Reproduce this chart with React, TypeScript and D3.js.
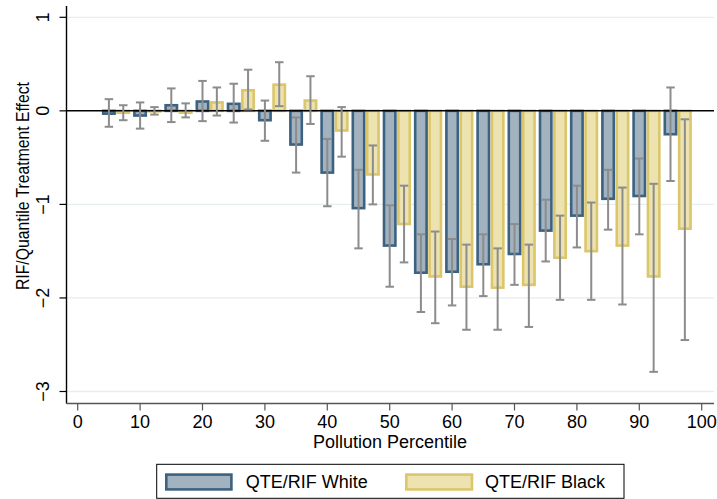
import React from "react";
import * as d3 from "d3";

const percentiles = [5, 10, 15, 20, 25, 30, 35, 40, 45, 50, 55, 60, 65, 70, 75, 80, 85, 90, 95];
const whiteEst = [-0.03, -0.05, 0.06, 0.1, 0.075, -0.1, -0.36, -0.66, -1.04, -1.44, -1.73, -1.72, -1.64, -1.53, -1.28, -1.12, -0.94, -0.91, -0.25];
const whiteHi = [0.125, 0.09, 0.24, 0.32, 0.29, 0.11, -0.07, -0.3, -0.63, -1.01, -1.32, -1.37, -1.32, -1.21, -0.95, -0.8, -0.63, -0.51, 0.25];
const whiteLo = [-0.17, -0.19, -0.12, -0.11, -0.125, -0.32, -0.66, -1.02, -1.47, -1.88, -2.15, -2.08, -1.98, -1.86, -1.61, -1.46, -1.27, -1.32, -0.75];
const blackEst = [-0.02, -0.005, -0.02, 0.09, 0.22, 0.28, 0.11, -0.21, -0.68, -1.21, -1.77, -1.88, -1.89, -1.86, -1.57, -1.5, -1.44, -1.77, -1.26];
const blackHi = [0.06, 0.04, 0.08, 0.25, 0.44, 0.52, 0.37, 0.04, -0.37, -0.8, -1.29, -1.43, -1.47, -1.43, -1.12, -0.98, -0.82, -0.78, -0.09];
const blackLo = [-0.1, -0.04, -0.07, -0.05, 0.015, 0.05, -0.14, -0.49, -1.0, -1.62, -2.27, -2.34, -2.34, -2.31, -2.02, -2.02, -2.07, -2.79, -2.45];

const xTicks = [0, 10, 20, 30, 40, 50, 60, 70, 80, 90, 100];
const yTicks = [1, 0, -1, -2, -3];
const gridValues = [1, -1, -2, -3];
const seriesNames = ["QTE/RIF White", "QTE/RIF Black"];

const W = 717;
const H = 499;
const FONT = "'Liberation Sans', Arial, Helvetica, sans-serif";

const WHITE_FILL = "#a2b3bf";
const WHITE_STROKE = "#3c6281";
const BLACK_FILL = "#ece3b1";
const BLACK_STROKE = "#dbc66b";
const ERR = "#8c8c8c";

export default function App() {
  const x = d3.scaleLinear().domain([0, 100]).range([77.7, 701.7]);
  const y = d3.scaleLinear().domain([1, -3]).range([17.3, 391.5]);

  const axisLeft = 66.5;
  const axisBottom = 403.5;
  const plotRight = 714;
  const plotTop = 6;

  const barStroke = 2.6;
  const barOuter = 14;
  const barW = barOuter - barStroke;
  const blackOffset = 2.3;
  const capW = 8.5;

  const bar = (cx: number, v: number, fill: string, stroke: string, key: string) => {
    const y0 = y(0);
    const yv = y(v);
    const top = Math.min(y0, yv);
    const h = Math.max(Math.abs(yv - y0), 0.5);
    return (
      <rect
        key={key}
        x={cx - barW / 2}
        y={top}
        width={barW}
        height={h}
        fill={fill}
        stroke={stroke}
        strokeWidth={barStroke}
      />
    );
  };

  const errBar = (cx: number, lo: number, hi: number, key: string) => (
    <g key={key} stroke={ERR} strokeWidth={2} fill="none">
      <line x1={cx} x2={cx} y1={y(hi)} y2={y(lo)} />
      <line x1={cx - capW / 2} x2={cx + capW / 2} y1={y(hi)} y2={y(hi)} />
      <line x1={cx - capW / 2} x2={cx + capW / 2} y1={y(lo)} y2={y(lo)} />
    </g>
  );

  return (
    <svg
      width={W}
      height={H}
      style={{ position: "absolute", left: 0, top: 0, background: "#fff" }}
      fontFamily={FONT}
    >
      <rect x={0} y={0} width={W} height={H} fill="#fff" />
      {/* gridlines */}
      {gridValues.map((v) => (
        <line key={"g" + v} x1={axisLeft} x2={plotRight} y1={y(v)} y2={y(v)} stroke="#e6eef0" strokeWidth={1.3} />
      ))}
      {/* bars */}
      {percentiles.map((p, i) => bar(x(p), whiteEst[i], WHITE_FILL, WHITE_STROKE, "wb" + i))}
      {percentiles.map((p, i) => bar(x(p + blackOffset), blackEst[i], BLACK_FILL, BLACK_STROKE, "bb" + i))}
      {/* zero line */}
      <line x1={axisLeft} x2={plotRight} y1={y(0)} y2={y(0)} stroke="#000" strokeWidth={1.5} />
      {/* error bars */}
      {percentiles.map((p, i) => errBar(x(p), whiteLo[i], whiteHi[i], "we" + i))}
      {percentiles.map((p, i) => errBar(x(p + blackOffset), blackLo[i], blackHi[i], "be" + i))}

      {/* y axis */}
      <line x1={axisLeft} x2={axisLeft} y1={plotTop} y2={axisBottom} stroke="#000" strokeWidth={1.4} />
      {yTicks.map((v) => (
        <g key={"yt" + v}>
          <line x1={axisLeft - 7} x2={axisLeft} y1={y(v)} y2={y(v)} stroke="#000" strokeWidth={1.2} />
          <text
            transform={`translate(49,${y(v)}) rotate(-90)`}
            textAnchor="middle"
            fontSize={18}
            fill="#000"
          >
            {v < 0 ? "\u2212" + Math.abs(v) : String(v)}
          </text>
        </g>
      ))}
      <text
        transform={`translate(28.5,186) rotate(-90)`}
        textAnchor="middle"
        fontSize={18}
        fill="#000"
        textLength={208}
        lengthAdjust="spacingAndGlyphs"
      >
        RIF/Quantile Treatment Effect
      </text>

      {/* x axis */}
      <line x1={axisLeft} x2={plotRight} y1={axisBottom} y2={axisBottom} stroke="#555" strokeWidth={1.6} />
      {xTicks.map((v) => (
        <g key={"xt" + v}>
          <line x1={x(v)} x2={x(v)} y1={axisBottom} y2={axisBottom + 7} stroke="#555" strokeWidth={1.2} />
          <text x={x(v)} y={428} textAnchor="middle" fontSize={18} fill="#000">
            {v}
          </text>
        </g>
      ))}
      <text x={390} y={448} textAnchor="middle" fontSize={18} fill="#000">
        Pollution Percentile
      </text>

      {/* legend */}
      <rect x={156.7} y={464.3} width={467.3} height={34} fill="#fff" stroke="#000" strokeWidth={1} />
      <rect x={166.3} y={474.6} width={65.1} height={14.8} fill={WHITE_FILL} stroke={WHITE_STROKE} strokeWidth={barStroke} />
      <text x={245.7} y={488} fontSize={18} fill="#000">
        {seriesNames[0]}
      </text>
      <rect x={406.3} y={474.6} width={65.7} height={14.8} fill={BLACK_FILL} stroke={BLACK_STROKE} strokeWidth={barStroke} />
      <text x={485} y={488} fontSize={18} fill="#000">
        {seriesNames[1]}
      </text>
    </svg>
  );
}
